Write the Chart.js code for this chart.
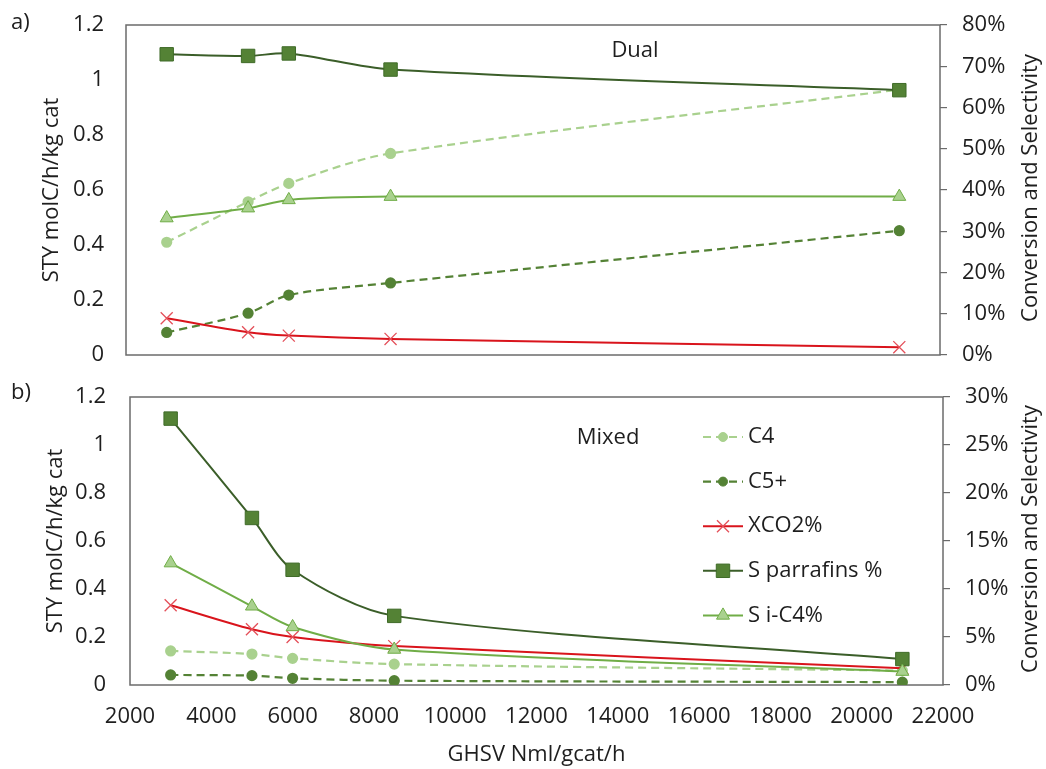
<!DOCTYPE html>
<html>
<head>
<meta charset="utf-8">
<script src="https://cdn.jsdelivr.net/npm/chart.js"></script>
<style>
  html, body { margin: 0; padding: 0; background: #fff; }
  #wrap { position: relative; width: 1046px; height: 769px; }
  canvas { position: absolute; left: 0; }
  #chartA { top: 0; }
  #chartB { top: 370px; }
</style>
</head>
<body>
<div id="wrap">
  <canvas id="chartA" width="1046" height="370"></canvas>
  <canvas id="chartB" width="1046" height="399"></canvas>
</div>
<script>
// GHSV (Nml/gcat/h)
const ghsv = [3000, 5000, 6000, 8500, 21000];
const seriesNames = ['C4', 'C5+', 'XCO2%', 'S parrafins %', 'S i-C4%'];

// a) Dual: STY (left axis) and % (right axis)
const dualC4 = [0.41, 0.557, 0.624, 0.733, 0.965];
const dualC5 = [0.082, 0.152, 0.218, 0.262, 0.452];
const dualXCO2 = [8.9, 5.5, 4.7, 3.9, 1.9];
const dualParaffins = [72.9, 72.5, 73.1, 69.2, 64.2];
const dualIC4 = [33.2, 35.6, 37.6, 38.4, 38.4];

// b) Mixed
const mixC4 = [0.142, 0.129, 0.111, 0.087, 0.06];
const mixC5 = [0.042, 0.039, 0.028, 0.018, 0.012];
const mixXCO2 = [8.3, 5.8, 5.0, 4.05, 1.75];
const mixParaffins = [27.75, 17.4, 12.0, 7.2, 2.7];
const mixIC4 = [12.7, 8.2, 6.05, 3.7, 1.4];

// axes
const xMin = 2000, xMax = 22000, xStep = 2000;
const styMin = 0, styMax = 1.2, styStep = 0.2;
const pctDualMax = 80, pctDualStep = 10;
const pctMixMax = 30, pctMixStep = 5;

const FONT = '"Open Sans", sans-serif';
const FS = 22;
const TEXT = '#1e1e1e';
const FRAME = '#6b6b6b';

const styles = [
  { borderColor: '#a9d18e', backgroundColor: '#a9d18e', pointBorderColor: '#a9d18e',
    borderDash: [8, 5], borderWidth: 2.2, pointStyle: 'circle', pointRadius: 4.5, yAxisID: 'y' },
  { borderColor: '#548235', backgroundColor: '#548235', pointBorderColor: '#548235',
    borderDash: [8, 5], borderWidth: 2.2, pointStyle: 'circle', pointRadius: 4.5, yAxisID: 'y' },
  { borderColor: '#d9141c', backgroundColor: '#e4505a', pointBorderColor: '#e4505a',
    borderWidth: 2, pointStyle: 'crossRot', pointRadius: 8.5, pointBorderWidth: 1.3, yAxisID: 'y2' },
  { borderColor: '#3b5e29', backgroundColor: '#548235', pointBorderColor: '#3f6b28',
    borderWidth: 2, pointStyle: 'rect', pointRadius: 9.5, pointBorderWidth: 1, yAxisID: 'y2' },
  { borderColor: '#70ad47', backgroundColor: '#a9d18e', pointBorderColor: '#70ad47',
    borderWidth: 2, pointStyle: 'triangle', pointRadius: 7.5, pointBorderWidth: 1, yAxisID: 'y2' },
];

function makeDatasets(lists) {
  return lists.map((ys, i) => Object.assign({
    label: seriesNames[i],
    data: ghsv.map((x, k) => ({ x, y: ys[k] })),
    tension: 0.3,
    fill: false,
    pointHoverRadius: 0,
    order: lists.length - i, // later series on top, as in the original
  }, styles[i]));
}

function drawMarker(ctx, st, x, y) {
  const r = st.pointRadius;
  ctx.save();
  ctx.fillStyle = st.backgroundColor;
  ctx.strokeStyle = st.pointBorderColor;
  ctx.lineWidth = st.pointBorderWidth || 1;
  ctx.setLineDash([]);
  ctx.beginPath();
  if (st.pointStyle === 'circle') {
    ctx.arc(x, y, r, 0, Math.PI * 2);
    ctx.fill(); ctx.stroke();
  } else if (st.pointStyle === 'rect') {
    const s = r * Math.SQRT1_2;
    ctx.rect(x - s, y - s, 2 * s, 2 * s);
    ctx.fill(); ctx.stroke();
  } else if (st.pointStyle === 'triangle') {
    ctx.moveTo(x, y - r);
    ctx.lineTo(x + r * 0.866, y + r * 0.5);
    ctx.lineTo(x - r * 0.866, y + r * 0.5);
    ctx.closePath();
    ctx.fill(); ctx.stroke();
  } else if (st.pointStyle === 'crossRot') {
    const s = r * Math.SQRT1_2;
    ctx.moveTo(x - s, y - s); ctx.lineTo(x + s, y + s);
    ctx.moveTo(x - s, y + s); ctx.lineTo(x + s, y - s);
    ctx.stroke();
  }
  ctx.restore();
}

const framePlugin = {
  id: 'frame',
  beforeDatasetsDraw(chart) {
    const { ctx, chartArea: a } = chart;
    ctx.save();
    ctx.strokeStyle = FRAME;
    ctx.lineWidth = 1.5;
    ctx.strokeRect(a.left, a.top, a.right - a.left, a.bottom - a.top);
    ctx.restore();
  },
};

const notesPlugin = {
  id: 'notes',
  afterDraw(chart, args, opts) {
    const { ctx, chartArea: a } = chart;
    ctx.save();
    ctx.fillStyle = TEXT;
    ctx.font = FS + 'px ' + FONT;
    ctx.textBaseline = 'middle';
    ctx.textAlign = 'left';
    ctx.fillText(opts.letter, 11, 23);
    ctx.textAlign = 'center';
    ctx.fillText(opts.label, opts.labelX, opts.labelY);
    // right axis title, reading bottom to top
    ctx.translate(1031, (a.top + a.bottom) / 2 - 2);
    ctx.rotate(-Math.PI / 2);
    ctx.fillText('Conversion and Selectivity', 0, 0);
    ctx.restore();

    if (opts.legend) {
      const x0 = 703, x1 = 743, tx = 748;
      chart.data.datasets.forEach((d, i) => {
        const y = 67 + i * 44.6;
        ctx.save();
        ctx.strokeStyle = d.borderColor;
        ctx.lineWidth = d.borderWidth;
        ctx.setLineDash(d.borderDash || []);
        ctx.beginPath();
        ctx.moveTo(x0, y); ctx.lineTo(x1, y);
        ctx.stroke();
        ctx.restore();
        drawMarker(ctx, d, (x0 + x1) / 2, y);
        ctx.save();
        ctx.fillStyle = TEXT;
        ctx.font = FS + 'px ' + FONT;
        ctx.textBaseline = 'middle';
        ctx.fillText(d.label, tx, y);
        ctx.restore();
      });
    }
  },
};

function noEdgePadding(s) {
  s.paddingTop = 0;
  s.paddingBottom = 0;
}

function makeChart(id, lists, cfg) {
  const tickFont = { family: FONT, size: FS };
  return new Chart(document.getElementById(id), {
    type: 'line',
    data: { datasets: makeDatasets(lists) },
    plugins: [framePlugin, notesPlugin],
    options: {
      responsive: false,
      animation: false,
      events: [],
      layout: { padding: cfg.padding },
      plugins: {
        legend: { display: false },
        tooltip: { enabled: false },
        notes: cfg.notes,
      },
      scales: {
        x: {
          type: 'linear',
          min: xMin,
          max: xMax,
          display: cfg.showX,
          ticks: { stepSize: xStep, padding: 19, color: TEXT, font: tickFont,
            maxRotation: 0, autoSkip: false, callback: (v) => String(v) },
          grid: { display: false, drawTicks: false },
          border: { display: false },
          title: { display: true, text: 'GHSV Nml/gcat/h', color: TEXT,
            font: { family: FONT, size: FS }, padding: { top: 0, bottom: 1 } },
          afterFit(s) { s.height = cfg.showX ? 84 : 0; },
        },
        y: {
          position: 'left',
          min: styMin,
          max: styMax,
          ticks: { stepSize: styStep, padding: cfg.leftPad, color: TEXT, font: tickFont,
            callback: (v) => String(+v.toFixed(1)) },
          grid: { display: false, drawTicks: false },
          border: { display: false },
          title: { display: true, text: 'STY molC/h/kg cat', color: TEXT,
            font: { family: FONT, size: FS }, padding: { top: cfg.leftTitlePad } },
          afterFit(s) { s.width = cfg.left; noEdgePadding(s); },
        },
        y2: {
          position: 'right',
          min: 0,
          max: cfg.pctMax,
          ticks: { stepSize: cfg.pctStep, padding: 15, color: TEXT, font: tickFont,
            callback: (v) => v + '%' },
          grid: { display: true, drawOnChartArea: false, drawTicks: true, tickLength: 7,
            color: FRAME, lineWidth: 1.2 },
          border: { display: false },
          afterFit(s) { s.width = cfg.right; noEdgePadding(s); },
        },
      },
    },
  });
}

makeChart('chartA', [dualC4, dualC5, dualXCO2, dualParaffins, dualIC4], {
  padding: { top: 25, bottom: 15, left: 0, right: 0 },
  showX: false,
  left: 126, right: 106, leftPad: 22, leftTitlePad: 39,
  pctMax: pctDualMax, pctStep: pctDualStep,
  notes: { letter: 'a)', label: 'Dual', labelX: 635, labelY: 51, legend: false },
});

makeChart('chartB', [mixC4, mixC5, mixXCO2, mixParaffins, mixIC4], {
  padding: { top: 27, bottom: 0, left: 0, right: 0 },
  showX: true,
  left: 130, right: 103, leftPad: 24, leftTitlePad: 43,
  pctMax: pctMixMax, pctStep: pctMixStep,
  notes: { letter: 'b)', label: 'Mixed', labelX: 608, labelY: 68, legend: true },
});
</script>
</body>
</html>
